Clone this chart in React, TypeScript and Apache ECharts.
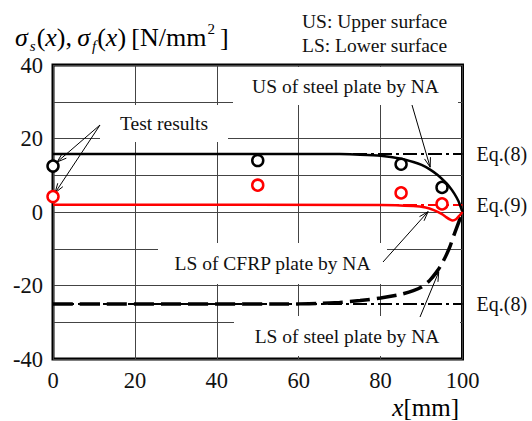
import React, { useEffect, useRef } from "react";
import * as echarts from "echarts";

// Upper surface of the steel plate, numerical analysis
const usSteelX = [0, 60, 70, 75, 80, 85, 88, 90, 92, 94, 96, 97, 98, 99, 100];
const usSteelY = [15.8, 15.8, 15.75, 15.6, 15.3, 14.5, 13.6, 12.8, 11.6, 10.0, 7.9, 6.6, 5.0, 3.0, 0];

// Lower surface of the steel plate, numerical analysis
const lsSteelX = [0, 60, 65, 70, 75, 80, 85, 88, 90, 92, 94, 95, 96, 97, 98, 99, 100];
const lsSteelY = [-25, -25, -24.9, -24.6, -24.1, -23.4, -22.4, -21.4, -20.4, -18.6, -15.8, -14.0, -11.8, -9.2, -6.0, -3.0, 0];

// Lower surface of the CFRP plate, numerical analysis
const lsCfrpX = [0, 80, 88, 91, 93, 95, 96, 97, 97.6, 98.5, 99.3, 100];
const lsCfrpY = [2.0, 1.9, 1.6, 1.2, 0.5, -0.6, -1.4, -2.1, -2.3, -1.9, -0.9, 0];

// Closed-form values
const eq8Upper = 15.8;
const eq9Value = 1.9;
const eq8Lower = -25;

// Test results
const testX = [0, 50, 85, 95];
const usTest = [12.5, 14.0, 13.0, 6.7];
const lsTest = [4.2, 7.3, 5.2, 2.2];

const xTicks = [0, 20, 40, 60, 80, 100];

const FONT = "'Liberation Serif', 'Times New Roman', serif";
const RED = "#ff0000";

const pairs = (xs: number[], ys: number[]) => xs.map((x, i) => [x, ys[i]]);
const flat = (v: number) => [[0, v], [100, v]];

function arrowGraphic(tail: number[], head: number[]) {
  const dx = head[0] - tail[0];
  const dy = head[1] - tail[1];
  const len = Math.hypot(dx, dy);
  const ux = dx / len;
  const uy = dy / len;
  const L = 10;
  const a = (18 * Math.PI) / 180;
  const rot = (ang: number) => [
    head[0] - L * (ux * Math.cos(ang) - uy * Math.sin(ang)),
    head[1] - L * (ux * Math.sin(ang) + uy * Math.cos(ang)),
  ];
  const style = { stroke: "#000", lineWidth: 1, fill: "none" };
  return [
    { type: "line", z: 6, shape: { x1: tail[0], y1: tail[1], x2: head[0], y2: head[1] }, style },
    { type: "polyline", z: 6, shape: { points: [rot(a), head, rot(-a)] }, style },
  ];
}

function labelBox(x: number, y: number, w: number, h: number, text: string) {
  return [
    { type: "rect", z: 1, shape: { x, y, width: w, height: h }, style: { fill: "#fff" } },
    {
      type: "text",
      z: 6,
      x: x + w / 2,
      y: y + h / 2,
      style: {
        text,
        fill: "#111",
        font: `19.5px ${FONT}`,
        align: "center",
        verticalAlign: "middle",
      },
    },
  ];
}

export default function App() {
  const ref = useRef<HTMLDivElement>(null);

  useEffect(() => {
    const chart = echarts.init(ref.current!, null, { renderer: "svg" });

    const eqLabel = (text: string) => ({
      show: true,
      formatter: text,
      distance: 14,
      color: "#111",
      fontFamily: FONT,
      fontSize: 20,
    });

    chart.setOption({
      animation: false,
      backgroundColor: "#fff",
      grid: {
        left: 53,
        right: 69.5,
        top: 65,
        bottom: 62,
        show: true,
        borderColor: "#000",
        borderWidth: 3,
        backgroundColor: "transparent",
      },
      xAxis: {
        type: "value",
        min: 0,
        max: 100,
        interval: 20,
        axisLine: { show: false },
        axisTick: { show: false },
        axisLabel: {
          margin: 10,
          color: "#111",
          fontFamily: FONT,
          fontSize: 22.5,
          formatter: (v: number) => (xTicks.includes(v) ? String(v) : ""),
        },
        splitLine: { show: true, lineStyle: { color: "#444", width: 1 } },
      },
      yAxis: {
        type: "value",
        min: -40,
        max: 40,
        interval: 10,
        axisLine: { show: false },
        axisTick: { show: false },
        axisLabel: {
          margin: 10,
          color: "#111",
          fontFamily: FONT,
          fontSize: 22.5,
          formatter: (v: number) => (v % 20 === 0 ? String(v) : ""),
        },
        splitLine: { show: true, lineStyle: { color: "#444", width: 1 } },
      },
      series: [
        {
          name: "Eq.(8) upper",
          type: "line",
          data: flat(eq8Upper),
          showSymbol: false,
          lineStyle: { color: "#000", width: 2, type: [14, 4, 3, 4] },
          endLabel: eqLabel("Eq.(8)"),
          z: 3,
        },
        {
          name: "Eq.(9)",
          type: "line",
          data: flat(eq9Value),
          showSymbol: false,
          lineStyle: { color: RED, width: 2, type: [14, 4, 3, 4] },
          endLabel: eqLabel("Eq.(9)"),
          z: 3,
        },
        {
          name: "Eq.(8) lower",
          type: "line",
          data: flat(eq8Lower),
          showSymbol: false,
          lineStyle: { color: "#000", width: 2, type: [14, 4, 3, 4] },
          endLabel: eqLabel("Eq.(8)"),
          z: 3,
        },
        {
          name: "US of steel plate by NA",
          type: "line",
          data: pairs(usSteelX, usSteelY),
          showSymbol: false,
          smooth: 0.2,
          lineStyle: { color: "#000", width: 2.5 },
          z: 4,
        },
        {
          name: "LS of steel plate by NA",
          type: "line",
          data: pairs(lsSteelX, lsSteelY),
          showSymbol: false,
          smooth: 0.2,
          lineStyle: { color: "#000", width: 3.5, type: [20, 7] },
          z: 4,
        },
        {
          name: "LS of CFRP plate by NA",
          type: "line",
          data: pairs(lsCfrpX, lsCfrpY),
          showSymbol: false,
          smooth: 0.2,
          lineStyle: { color: RED, width: 2.5 },
          z: 4,
        },
        {
          name: "Test US",
          type: "scatter",
          data: pairs(testX, usTest),
          symbol: "circle",
          symbolSize: 11,
          itemStyle: { color: "#fff", borderColor: "#000", borderWidth: 2.5, opacity: 1 },
          clip: false,
          z: 7,
        },
        {
          name: "Test LS",
          type: "scatter",
          data: pairs(testX, lsTest),
          symbol: "circle",
          symbolSize: 11,
          itemStyle: { color: "#fff", borderColor: RED, borderWidth: 2.5, opacity: 1 },
          clip: false,
          z: 7,
        },
      ],
    });

    const px = (p: number[]) => chart.convertToPixel({ gridIndex: 0 }, p) as number[];

    const graphics: any[] = [
      ...labelBox(100, 105, 128, 37, "Test results"),
      ...labelBox(233, 67, 225, 38, "US of steel plate by NA"),
      ...labelBox(158, 243, 229, 41, "LS of CFRP plate by NA"),
      ...labelBox(234, 316, 226, 40, "LS of steel plate by NA"),
      ...arrowGraphic([100, 125], px([1.0, 13.6])),
      ...arrowGraphic([100, 125], px([0.5, 5.2])),
      ...arrowGraphic([412, 105], px([92.1, 12.2])),
      ...arrowGraphic([383, 262], px([91.6, 0.1])),
      ...arrowGraphic([420, 317], px([94.2, -16.3])),
      {
        type: "text",
        z: 6,
        x: 15,
        y: 37,
        style: {
          text: "{i|σ}{sub|s}{r|(}{i|x}{r|),\u2009}{i|σ}{sub|f}{r|(}{i|x}{r|)\u2009[N/mm}{sup|2}{r|\u2009]}",
          verticalAlign: "middle",
          rich: {
            i: { fontFamily: FONT, fontSize: 26, fontStyle: "italic", color: "#111", lineHeight: 44 },
            r: { fontFamily: FONT, fontSize: 26, color: "#111", lineHeight: 44 },
            sub: { fontFamily: FONT, fontSize: 15, fontStyle: "italic", color: "#111", padding: [18, 1, 0, 2] },
            sup: { fontFamily: FONT, fontSize: 15, color: "#111", padding: [0, 0, 16, 1] },
          },
        },
      },
      {
        type: "text",
        z: 6,
        x: 302,
        y: 21,
        style: { text: "US: Upper surface", font: `19.5px ${FONT}`, fill: "#111", verticalAlign: "middle" },
      },
      {
        type: "text",
        z: 6,
        x: 302,
        y: 45,
        style: { text: "LS: Lower surface", font: `19.5px ${FONT}`, fill: "#111", verticalAlign: "middle" },
      },
      {
        type: "text",
        z: 6,
        x: 459,
        y: 407,
        style: {
          text: "{i|x}{r|[mm]}",
          align: "right",
          verticalAlign: "middle",
          rich: {
            i: { fontFamily: FONT, fontSize: 25, fontStyle: "italic", color: "#111" },
            r: { fontFamily: FONT, fontSize: 25, color: "#111" },
          },
        },
      },
    ];

    chart.setOption({ graphic: graphics });

    return () => chart.dispose();
  }, []);

  return (
    <div
      ref={ref}
      style={{ position: "absolute", left: 0, top: 0, width: 532, height: 421 }}
    />
  );
}
